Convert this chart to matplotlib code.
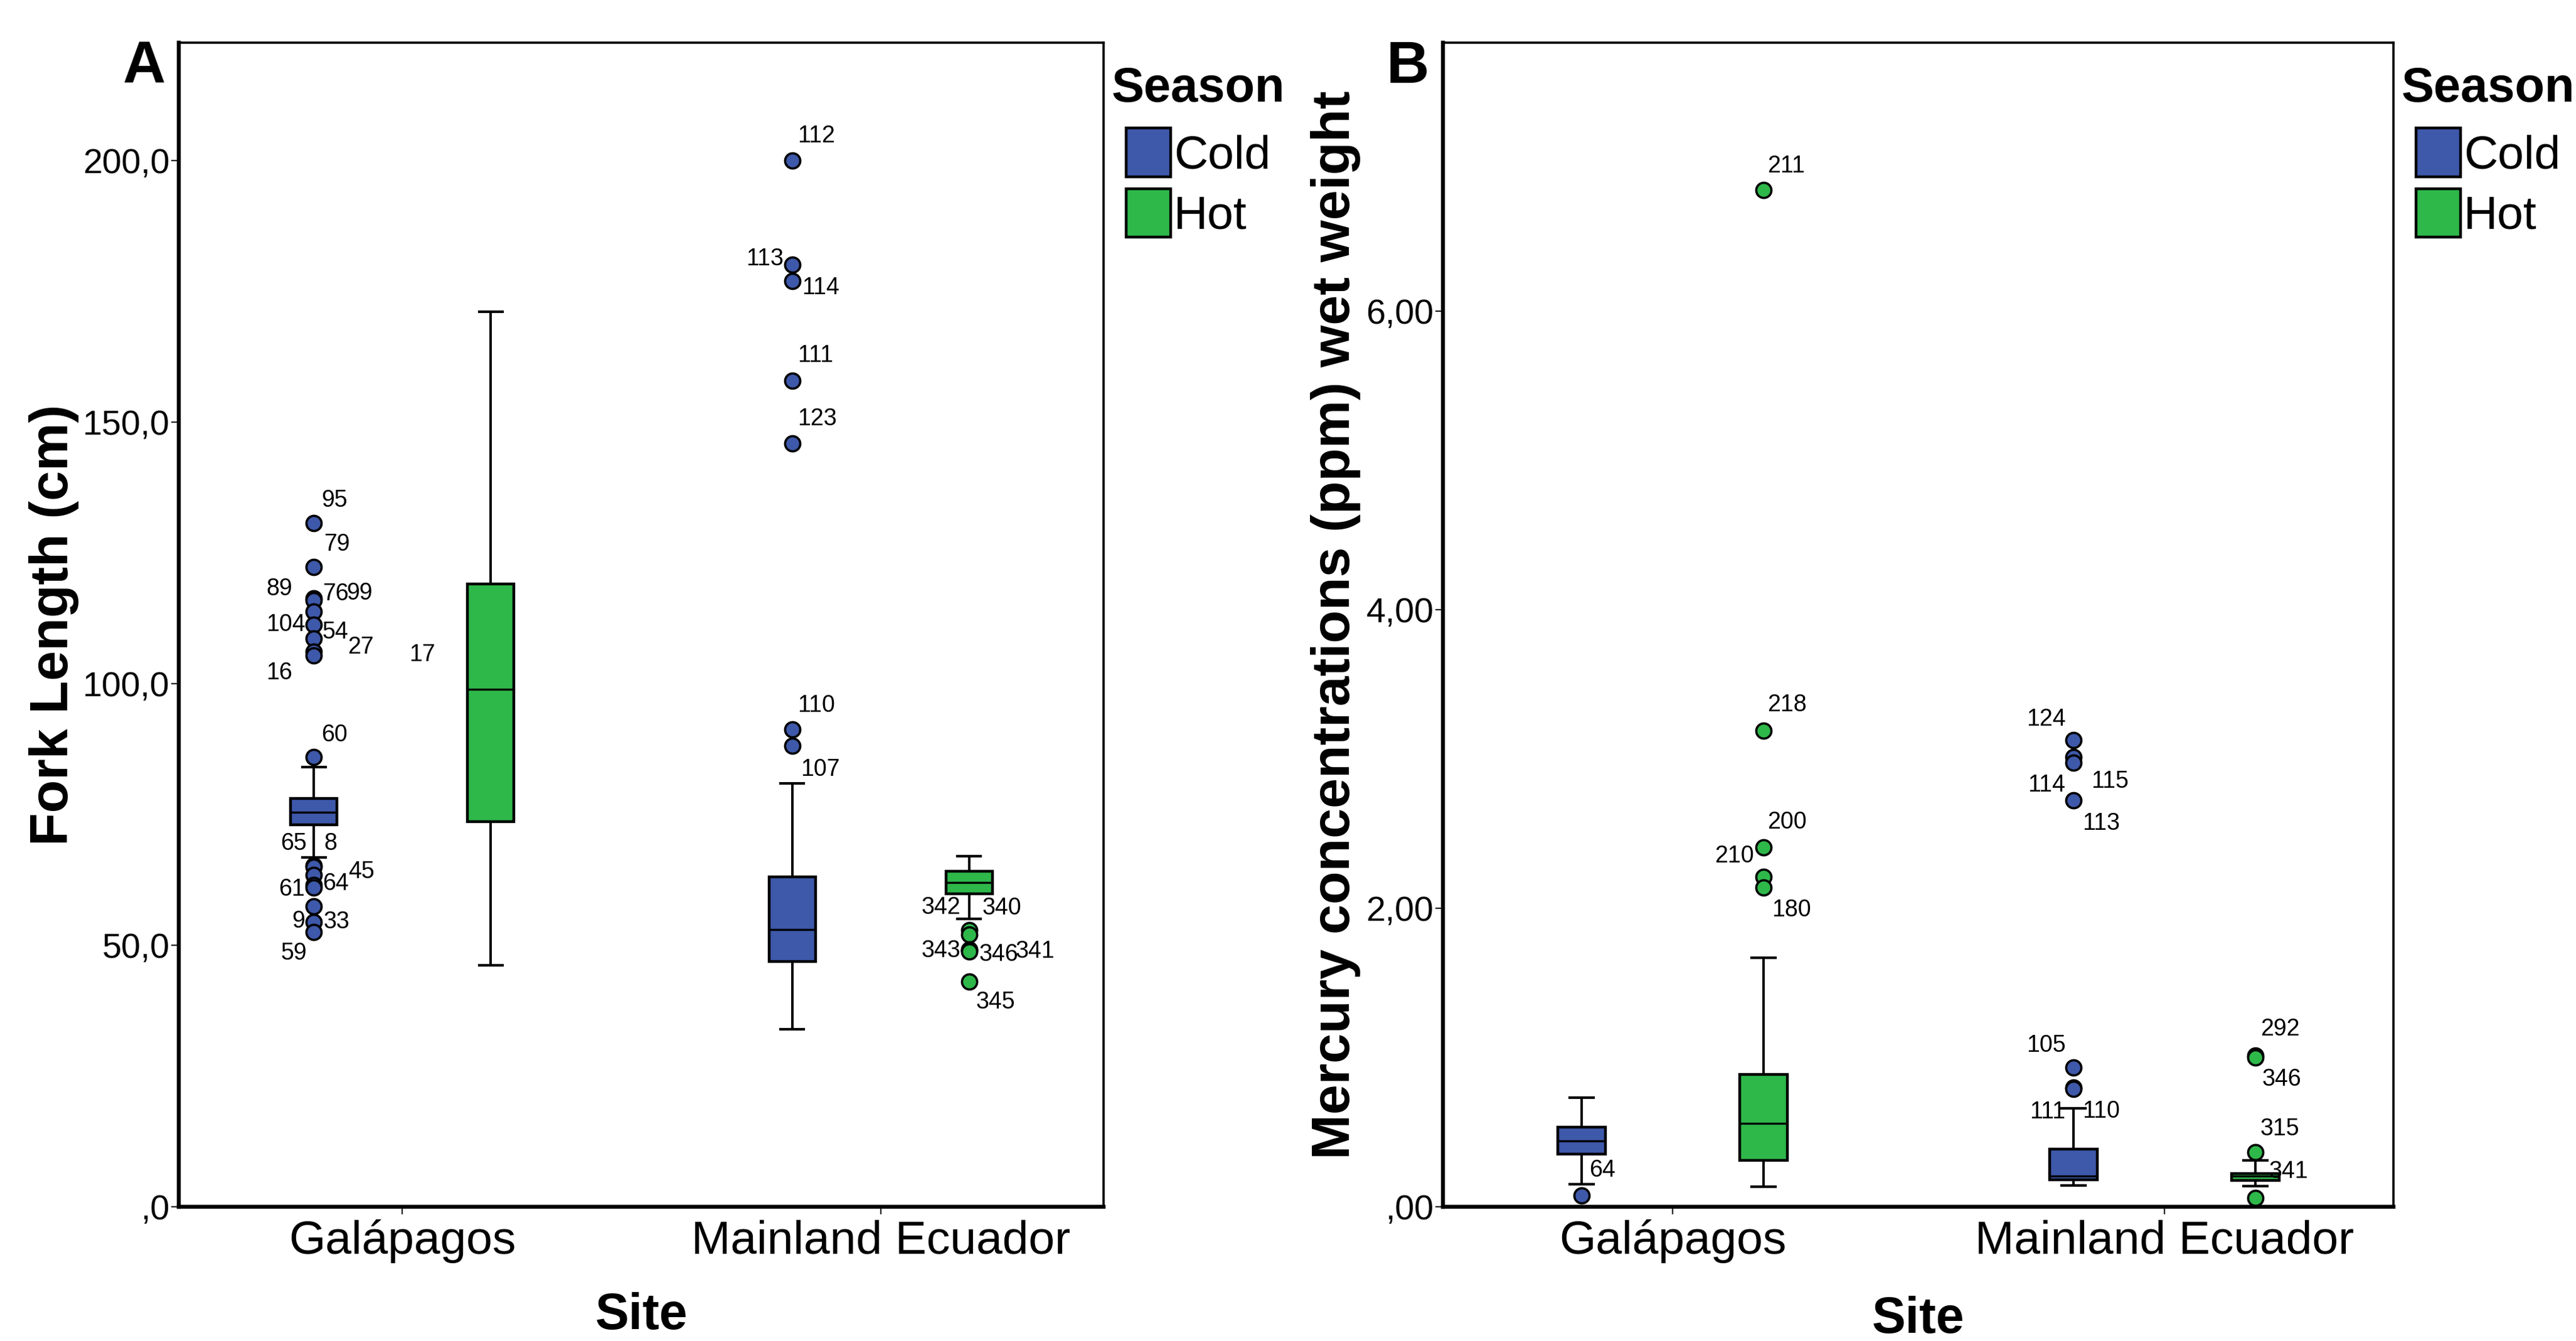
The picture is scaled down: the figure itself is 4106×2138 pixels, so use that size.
import matplotlib
matplotlib.use("Agg")
import matplotlib.pyplot as plt
from matplotlib.patches import Patch

plt.rcParams['font.family'] = ['Liberation Sans', 'DejaVu Sans']

DPI = 200
PX = 72 / DPI  # one output pixel in points
BLUE = '#3E58AA'
GREEN = '#2EB84A'
COLORS = [BLUE, GREEN]

sites = ['Galápagos', 'Mainland Ecuador']
seasons = ['Cold', 'Hot']

# ---- Panel A: fork length (cm); box = whislo, q1, median, q3, whishi
fl_ticks = [0, 50, 100, 150, 200]
fl_ticklabels = [',0', '50,0', '100,0', '150,0', '200,0']

fl_gal_cold = [66.8, 73.0, 75.4, 78.1, 84.1]
fl_gal_cold_out = [130.7, 122.3, 116.3, 116.0, 113.8, 111.3, 108.7, 106.2, 105.4,
                   86.0, 65.3, 65.0, 63.5, 61.5, 61.0, 57.4, 54.5, 52.5]
fl_gal_cold_ids = ['95', '79', '89', '76', '99', '104', '54', '27', '16',
                   '60', '65', '8', '45', '61', '64', '9', '33', '59']

fl_gal_hot = [46.2, 73.6, 99.0, 119.1, 171.2]
fl_gal_hot_out = [105.5]   # case 17, hidden behind the box
fl_gal_hot_ids = ['17']

fl_main_cold = [33.9, 46.9, 53.0, 63.1, 81.0]
fl_main_cold_out = [200.0, 180.1, 177.0, 158.0, 146.0, 91.3, 88.1]
fl_main_cold_ids = ['112', '113', '114', '111', '123', '110', '107']

fl_main_hot = [55.1, 59.9, 62.0, 64.2, 67.0]
fl_main_hot_out = [52.9, 52.0, 49.2, 49.0, 48.8, 43.0]
fl_main_hot_ids = ['342', '340', '343', '346', '341', '345']

# ---- Panel B: mercury (ppm wet weight)
hg_ticks = [0, 2, 4, 6]
hg_ticklabels = [',00', '2,00', '4,00', '6,00']

hg_gal_cold = [0.153, 0.354, 0.441, 0.533, 0.732]
hg_gal_cold_out = [0.075]
hg_gal_cold_ids = ['64']

hg_gal_hot = [0.135, 0.310, 0.561, 0.888, 1.669]
hg_gal_hot_out = [6.813, 3.190, 2.410, 2.209, 2.138]
hg_gal_hot_ids = ['211', '218', '200', '210', '180']

hg_main_cold = [0.145, 0.181, 0.205, 0.385, 0.661]
hg_main_cold_out = [3.128, 3.015, 2.975, 2.724, 0.933, 0.80, 0.79]
hg_main_cold_ids = ['124', '115', '114', '113', '105', '111', '110']

hg_main_hot = [0.139, 0.177, 0.205, 0.223, 0.313]
hg_main_hot_out = [1.014, 1.00, 0.365, 0.059]
hg_main_hot_ids = ['292', '346', '315', '341']

# label placement (alignment, dx, dy in output pixels, dy downwards)
lay_fl_gal_cold = [('left', 12, -36), ('left', 16, -36), ('right', -34, -15), ('left', 14, -10),
                   ('left', 52, -29), ('right', -13, 0), ('left', 14, -10), ('left', 54, -7),
                   ('right', -34, 28), ('left', 12, -35), ('right', -11, -35), ('left', 16, -37),
                   ('left', 55, -5), ('right', -14, 7), ('left', 14, -6), ('right', -14, 24),
                   ('left', 16, 0), ('right', -11, 34)]
lay_fl_gal_hot = [('right', -88, 0)]
lay_fl_main_cold = [('left', 9, -39), ('right', -14, -9), ('left', 16, 11), ('left', 9, -40),
                    ('left', 9, -39), ('left', 9, -38), ('left', 14, 38)]
lay_fl_main_hot = [('right', -14, -36), ('left', 21, -42), ('right', -14, 2), ('left', 16, 7),
                   ('left', 74, 0), ('left', 11, 33)]
lay_hg_gal_cold = [('left', 12, -40)]
lay_hg_gal_hot = [('left', 6, -38), ('left', 6, -41), ('left', 6, -40), ('right', -15, -33),
                  ('left', 13, 36)]
lay_hg_main_cold = [('right', -12, -33), ('left', 28, 39), ('right', -13, 36), ('left', 14, 37),
                    ('right', -12, -35), ('right', -13, 39), ('left', 14, 36)]
lay_hg_main_hot = [('left', 8, -42), ('left', 11, 35), ('left', 8, -37), ('left', 22, -42)]

OFFSET = 0.185
WIDTH = 0.097


def draw_panel(ax, groups, ticks, ticklabels, ymax, width_px):
    for site, season, box, vals, ids, lay in groups:
        pos = site + (OFFSET if season else -OFFSET)
        col = COLORS[season]
        st = dict(whislo=box[0], q1=box[1], med=box[2], q3=box[3], whishi=box[4], fliers=[])
        ax.bxp([st], positions=[pos], widths=[WIDTH], capwidths=[WIDTH * 0.5],
               patch_artist=True, showfliers=False, manage_ticks=False,
               boxprops=dict(facecolor=col, edgecolor='black', linewidth=1.6),
               medianprops=dict(color='black', linewidth=1.2),
               whiskerprops=dict(color='black', linewidth=1.4),
               capprops=dict(color='black', linewidth=1.5), zorder=2)
        ax.plot([pos] * len(vals), vals, 'o', ms=8.7, mfc=col, mec='black', mew=1.3,
                zorder=1.5, clip_on=False)
        for v, lab, (ha, dx, dy) in zip(vals, ids, lay):
            ax.annotate(lab, (pos, v), xytext=(dx * PX, -dy * PX), textcoords='offset points',
                        ha=ha, va='center', fontsize=13.5, zorder=3)
    ax.set_xlim(-0.467, 1.466)
    ax.set_ylim(0, ymax)
    ax.set_xticks([0, 1], sites, fontsize=27)
    ax.set_yticks(ticks, ticklabels, fontsize=20)
    ax.tick_params(axis='y', direction='out', length=4.3, width=0.7, pad=1)
    ax.tick_params(axis='x', direction='out', length=4.3, width=0.7, pad=3)
    for s in ['left', 'bottom']:
        ax.spines[s].set_linewidth(2.3)
    for s in ['top', 'right']:
        ax.spines[s].set_linewidth(1.3)

    # legend: bold title as its own text, swatches through ax.legend
    ax.text(1 + 13 / width_px, 0.9494, 'Season', transform=ax.transAxes, ha='left',
            va='baseline', fontsize=28, fontweight='bold')
    handles = [Patch(facecolor=c, edgecolor='black', linewidth=1.6) for c in COLORS]
    ax.legend(handles, seasons, loc='upper left',
              bbox_to_anchor=(1 + 36 / width_px, 0.9267), frameon=False, fontsize=27,
              handlelength=0.95, handleheight=1.22, handletextpad=0.06,
              labelspacing=0.23, borderaxespad=0, borderpad=0)


fig = plt.figure(figsize=(4106 / DPI, 2138 / DPI), dpi=DPI)
axA = fig.add_axes([0.06941, 0.10009, 0.35899, 0.8681])
axB = fig.add_axes([0.56016, 0.10009, 0.36897, 0.8681])

draw_panel(axA, [
    (0, 0, fl_gal_cold, fl_gal_cold_out, fl_gal_cold_ids, lay_fl_gal_cold),
    (0, 1, fl_gal_hot, fl_gal_hot_out, fl_gal_hot_ids, lay_fl_gal_hot),
    (1, 0, fl_main_cold, fl_main_cold_out, fl_main_cold_ids, lay_fl_main_cold),
    (1, 1, fl_main_hot, fl_main_hot_out, fl_main_hot_ids, lay_fl_main_hot),
], fl_ticks, fl_ticklabels, 222.6, 1474)

draw_panel(axB, [
    (0, 0, hg_gal_cold, hg_gal_cold_out, hg_gal_cold_ids, lay_hg_gal_cold),
    (0, 1, hg_gal_hot, hg_gal_hot_out, hg_gal_hot_ids, lay_hg_gal_hot),
    (1, 0, hg_main_cold, hg_main_cold_out, hg_main_cold_ids, lay_hg_main_cold),
    (1, 1, hg_main_hot, hg_main_hot_out, hg_main_hot_ids, lay_hg_main_hot),
], hg_ticks, hg_ticklabels, 7.80, 1515)

axA.text(-0.135, 0.5, 'Fork Length (cm)', transform=axA.transAxes, rotation=90,
         ha='center', va='center', fontsize=31, fontweight='bold')
axB.text(-0.113, 0.5, 'Mercury concentrations (ppm) wet weight', transform=axB.transAxes,
         rotation=90, ha='center', va='center', fontsize=31, fontweight='bold')
axA.text(0.5, -0.094, 'Site', transform=axA.transAxes, ha='center', va='center',
         fontsize=29, fontweight='bold')
axB.text(0.5, -0.097, 'Site', transform=axB.transAxes, ha='center', va='center',
         fontsize=29, fontweight='bold')

fig.text(0.056, 0.9495, 'A', ha='center', va='center', fontsize=34, fontweight='bold')
fig.text(0.5465, 0.9495, 'B', ha='center', va='center', fontsize=34, fontweight='bold')

fig.savefig('out.png', dpi=DPI)
